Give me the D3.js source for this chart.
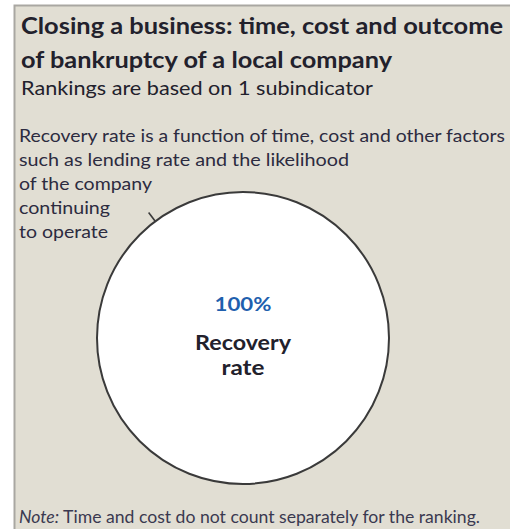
<!DOCTYPE html>
<html>
<head>
<meta charset="utf-8">
<script src="https://cdn.jsdelivr.net/npm/d3@7"></script>
<style>
  html, body { margin: 0; padding: 0; background: #ffffff; }
  svg { display: block; }
  text { font-family: Lato, "Open Sans", sans-serif; }
</style>
</head>
<body>
<svg id="chart" width="510" height="529"></svg>
<script>
// ---- data ----
const titleLines = ["Closing a business: time, cost and outcome", "of bankruptcy of a local company"];
const subtitle = "Rankings are based on 1 subindicator";
const noteLines = [
  "Recovery rate is a function of time, cost and other factors",
  "such as lending rate and the likelihood",
  "of the company",
  "continuing",
  "to operate"
];
const categories = ["Recovery rate"];
const values = [100];           // percent
const valueMax = 100;
const footNoteLead = "Note:";
const footNoteText = " Time and cost do not count separately for the ranking.";

// ---- layout ----
const W = 510, H = 529;
const svg = d3.select("#chart");

// panel
svg.append("rect").attr("x", 14).attr("y", 6).attr("width", W - 14).attr("height", H - 6)
  .attr("fill", "#e1ded3");
svg.append("path").attr("d", `M14.5,${H} V5.5 H${W}`)
  .attr("fill", "none").attr("stroke", "#a9a7a2").attr("stroke-width", 2);

// fit a text element to a given width
function fit(sel, w) {
  sel.attr("textLength", w).attr("lengthAdjust", "spacingAndGlyphs");
  return sel;
}

const ink = "#22212c";

// titles
const titleLayout = [{ y: 34, w: 482 }, { y: 68, w: 371 }];
titleLines.forEach((t, i) => {
  fit(svg.append("text").attr("x", 21).attr("y", titleLayout[i].y)
    .attr("font-size", 22).attr("font-weight", 700).attr("fill", ink).text(t), titleLayout[i].w);
});
fit(svg.append("text").attr("x", 21).attr("y", 95)
  .attr("font-size", 20).attr("fill", ink).text(subtitle), 352);

// annotation
const noteLayout = [
  { y: 142, w: 486 }, { y: 166, w: 330 }, { y: 190, w: 133 }, { y: 214, w: 91 }, { y: 238, w: 89 }
];
noteLines.forEach((t, i) => {
  fit(svg.append("text").attr("x", 19).attr("y", noteLayout[i].y)
    .attr("font-size", 18).attr("fill", "#2c2b40").text(t), noteLayout[i].w);
});

// circle (single-slice pie)
const cx = 243, cy = 338, r = 146;
const angle = d3.scaleLinear().domain([0, valueMax]).range([0, 2 * Math.PI]);
const pie = d3.pie().sort(null).value(d => d).startAngle(0).endAngle(angle(d3.sum(values)));
const arc = d3.arc().innerRadius(0).outerRadius(r);
const g = svg.append("g").attr("transform", `translate(${cx},${cy})`);
g.selectAll("path.slice").data(pie(values)).join("path")
  .attr("class", "slice")
  .attr("d", arc)
  .attr("fill", "#ffffff");
g.append("circle").attr("r", r).attr("fill", "none").attr("stroke", "#3a3a3a").attr("stroke-width", 2);

// leader tick from the annotation to the circle
const ang = Math.atan2(-117, -88);
g.append("line")
  .attr("x1", Math.cos(ang) * r).attr("y1", Math.sin(ang) * r)
  .attr("x2", Math.cos(ang) * (r + 11)).attr("y2", Math.sin(ang) * (r + 11))
  .attr("stroke", "#3a3a3a").attr("stroke-width", 1.6);

// centre labels
g.append("text").attr("x", 0).attr("y", -27).attr("text-anchor", "middle")
  .attr("font-size", 19).attr("font-weight", 700).attr("fill", "#1f5fae")
  .attr("textLength", 57).attr("lengthAdjust", "spacingAndGlyphs")
  .text(values[0] + "%");
const words = categories[0].split(" ");
const catLayout = [{ y: 12, w: 96 }, { y: 37, w: 43 }];
words.forEach((w, i) => {
  g.append("text").attr("x", 0).attr("y", catLayout[i].y).attr("text-anchor", "middle")
    .attr("font-size", 20).attr("font-weight", 700).attr("fill", ink)
    .attr("textLength", catLayout[i].w).attr("lengthAdjust", "spacingAndGlyphs")
    .text(w);
});

// foot note
const foot = svg.append("text").attr("x", 19).attr("y", 523)
  .attr("font-size", 17).attr("fill", "#3a3950");
foot.append("tspan").attr("font-style", "italic").text(footNoteLead);
foot.append("tspan").text(footNoteText);
fit(foot, 461);
</script>
</body>
</html>
